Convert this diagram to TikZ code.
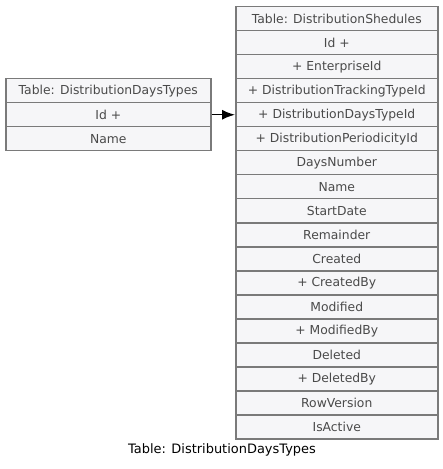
\documentclass[tikz,border=0pt]{standalone}
\usepackage{fontspec}
\setmainfont{DejaVu Sans}
\usetikzlibrary{arrows.meta}
\definecolor{bordergray}{HTML}{7A7A7A}
\definecolor{cellfill}{HTML}{F6F6F8}
\definecolor{textgray}{HTML}{4A4A4A}
\tikzset{
  cell/.style={draw=bordergray, fill=cellfill, line width=1.5bp, minimum height=24bp,
    inner sep=0pt, anchor=north west, text=textgray, font=\fontsize{12.4}{14}\selectfont},
  rel/.style={line width=1.5bp, -{Latex[length=13bp,width=10bp]}}
}
\begin{document}
\begin{tikzpicture}[x=1bp,y=-1bp]
\useasboundingbox (0,0) rectangle (443,469);
% left table
\node[cell, minimum width=205bp] (l0) at (5,78) {Table: DistributionDaysTypes};
\node[cell, minimum width=205bp] (l1) at (5,102) {Id +};
\node[cell, minimum width=205bp] (l2) at (5,126) {Name};
% right table
\foreach \t [count=\i from 0] in {Table: DistributionShedules, Id +, + EnterpriseId, + DistributionTrackingTypeId, + DistributionDaysTypeId, + DistributionPeriodicityId, DaysNumber, Name, StartDate, Remainder, Created, + CreatedBy, Modified, + ModifiedBy, Deleted, + DeletedBy, RowVersion, IsActive}{
  \node[cell, minimum width=202bp] (r\i) at (235,{6+24*\i}) {\t};
}
\draw[rel] (l1.east) -- (r4.west);
\node[font=\fontsize{13}{15}\selectfont, text=black] (cap) at (222,450) {Table: DistributionDaysTypes};
\end{tikzpicture}
\end{document}
